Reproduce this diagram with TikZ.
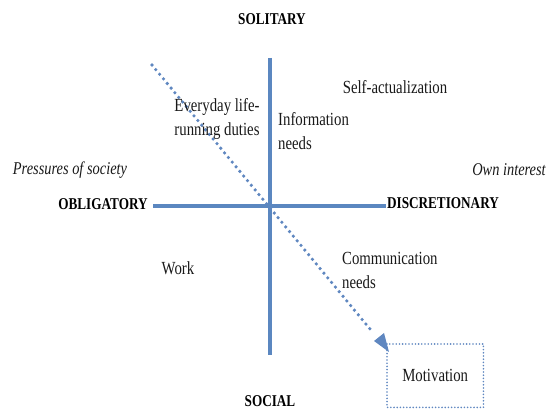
\documentclass[tikz,border=0pt]{standalone}
\usepackage{fontspec}
\setmainfont[FakeStretch=0.8]{Liberation Serif}
\usetikzlibrary{arrows.meta,calc}
\definecolor{axisblue}{RGB}{91,135,192}
\definecolor{dotblue}{RGB}{95,135,192}
\begin{document}
\begin{tikzpicture}[x=1pt,y=-1pt,
  txt/.style={inner sep=0pt,font=\fontsize{18.5}{24}\selectfont,text=black!90},
  caps/.style={inner sep=0pt,font=\fontsize{16.5}{20}\selectfont\bfseries,text=black},
  ital/.style={inner sep=0pt,font=\fontsize{18}{24}\selectfont\itshape,text=black!90},
  axis/.style={draw=axisblue,line width=4pt},
  dotline/.style={draw=dotblue,line width=3.6pt,line cap=round,dash pattern=on 0pt off 6pt},
  dotbox/.style={draw=dotblue,line width=1.8pt,line cap=round,dash pattern=on 0pt off 3.2pt}]
\useasboundingbox (0,0) rectangle (557,411);
% axes
\coordinate (vt) at (270,58);
\coordinate (vb) at (270,355);
\coordinate (hl) at (153,206);
\coordinate (hr) at (386,206);
\draw[axis] (vt) -- (vb);
\draw[axis] (hl) -- (hr);
% dotted arrow
\coordinate (as) at (152,65);
\coordinate (ae) at (389,352);
\draw[dotline] (as) -- ($(as)!0.93!(ae)$);
\fill[dotblue] (ae) -- ++(-5,-19) -- ++(-10,8) -- cycle;
% labels
\node[caps] (sol) at (272,19) {SOLITARY};
\node[caps] (soc) at (270,401) {SOCIAL};
\node[caps] (obl) at (103,204) {OBLIGATORY};
\node[caps] (dis) at (443,203) {DISCRETIONARY};
\node[ital] (pres) at (70,170) {Pressures of society};
\node[ital] (own) at (509,170) {Own interest};
\node[txt] (self) at (395,87) {Self-actualization};
\node[txt,align=center] (every) at (217,119) {Everyday life-\\running duties};
\node[txt,align=left,anchor=west] (info) at (278,131) {Information\\needs};
\node[txt] (work) at (178,268) {Work};
\node[txt,align=left,anchor=west] (comm) at (342,270) {Communication\\needs};
\node[txt,minimum width=96pt,minimum height=63pt,anchor=north west] (mot) at (387,344) {};
\node[txt] (motl) at (mot.center) {Motivation};
\draw[dotbox] (mot.north west) rectangle (mot.south east);
\end{tikzpicture}
\end{document}
